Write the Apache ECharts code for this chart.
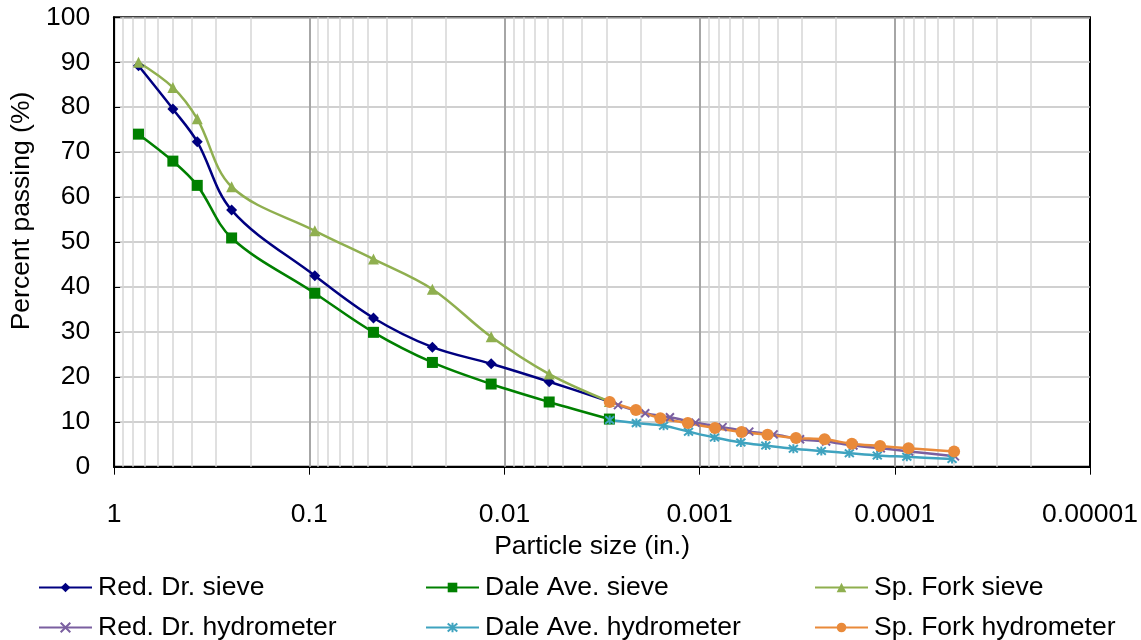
<!DOCTYPE html>
<html>
<head>
<meta charset="utf-8">
<script src="https://cdn.jsdelivr.net/npm/echarts@6/dist/echarts.min.js"></script>
<style>
html,body{margin:0;padding:0;background:#fff;}
#chart{width:1141px;height:640px;}
</style>
</head>
<body>
<div id="chart"></div>
<script>
// ---- data ----
var xTickLabels = ['1', '0.1', '0.01', '0.001', '0.0001', '0.00001'];
var sieveSize = [0.75, 0.5, 0.375, 0.25, 0.0937, 0.0469, 0.0234, 0.0117, 0.0059, 0.0029];
var redSieve  = [89.2, 79.6, 72.3, 57.1, 42.5, 33.1, 26.6, 22.9, 18.9, 14.5];
var daleSieve = [74.0, 68.0, 62.6, 50.9, 38.6, 29.9, 23.2, 18.4, 14.4, 10.6];
var forkSieve = [90.0, 84.4, 77.4, 62.3, 52.5, 46.2, 39.5, 28.9, 20.6, 14.5];

var redHydroSize  = [0.00262, 0.00190, 0.00142, 0.00105, 0.000763, 0.000557, 0.000418, 0.000306, 0.000225, 0.000163, 0.000118, 0.0000845, 0.0000492];
var redHydro      = [13.7, 11.9, 11.0, 9.8, 8.8, 7.8, 7.2, 6.1, 5.6, 4.7, 4.1, 3.4, 2.3];
var daleHydroSize = [0.00289, 0.00211, 0.00153, 0.00114, 0.000839, 0.000615, 0.000458, 0.000331, 0.000238, 0.000171, 0.000123, 0.0000868, 0.0000509];
var daleHydro     = [10.4, 9.7, 9.1, 7.8, 6.5, 5.4, 4.7, 4.0, 3.5, 3.0, 2.5, 2.2, 1.7];
var forkHydroSize = [0.00289, 0.00212, 0.00159, 0.00115, 0.000835, 0.000610, 0.000449, 0.000321, 0.000229, 0.000166, 0.000119, 0.0000851, 0.0000497];
var forkHydro     = [14.4, 12.6, 10.8, 9.7, 8.6, 7.7, 7.1, 6.4, 6.1, 5.1, 4.6, 4.1, 3.4];

var seriesNames = ['Red. Dr. sieve', 'Dale Ave. sieve', 'Sp. Fork sieve',
                   'Red. Dr. hydrometer', 'Dale Ave. hydrometer', 'Sp. Fork hydrometer'];

// ---- build ----
function pairs(xs, ys) { return xs.map(function (x, i) { return [x, ys[i]]; }); }

// minor gridlines for the log axis (2..9 within each decade)
var minorLines = [];
for (var k = 1; k <= 5; k++) {
  for (var m = 2; m <= 9; m++) {
    minorLines.push({ xAxis: m * Math.pow(10, -k) });
  }
}
var majorLines = [];
for (var k2 = 1; k2 <= 4; k2++) majorLines.push({ xAxis: Math.pow(10, -k2) });

var FONT = 'Liberation Sans, Arial, sans-serif';
var FS = 26.5;
var xPath = 'path://M0,0L10,10M10,0L0,10';
var starPath = 'path://M0,0L10,10M10,0L0,10M5,-1L5,11';

function lineSeries(name, data, color, symbol, size, extra) {
  var s = {
    name: name, type: 'line', data: data, smooth: 0.35,
    symbol: symbol, symbolSize: size, showSymbol: true,
    lineStyle: { color: color, width: 2.5 },
    itemStyle: { color: color },
    z: 5
  };
  if (extra) for (var key in extra) s[key] = extra[key];
  return s;
}

var legendPos = [
  [38, 574], [425, 574], [814, 574],
  [38, 614], [425, 614], [814, 614]
];

var option = {
  animation: false,
  backgroundColor: '#fff',
  grid: {
    left: 113.5, right: 51, top: 17.3, bottom: 173.3,
    show: true, borderColor: '#000', borderWidth: 2, backgroundColor: 'transparent'
  },
  xAxis: {
    type: 'log', logBase: 10, inverse: true, min: 0.00001, max: 1,
    name: 'Particle size (in.)', nameLocation: 'middle', nameGap: 66,
    nameTextStyle: { fontFamily: FONT, fontSize: FS, color: '#000', padding: [0, 20, 0, 0] },
    axisLine: { show: true, lineStyle: { color: '#000', width: 2 } },
    axisTick: { show: true, inside: false, length: 8, lineStyle: { color: '#000', width: 1 } },
    axisLabel: {
      fontFamily: FONT, fontSize: FS, color: '#000', margin: 34,
      showMinLabel: true, showMaxLabel: true,
      formatter: function (v) {
        var idx = Math.round(-Math.log10(v));
        return xTickLabels[idx] !== undefined ? xTickLabels[idx] : '';
      }
    },
    splitLine: { show: false },
    minorTick: { show: false }
  },
  yAxis: {
    type: 'value', min: 0, max: 100, interval: 10,
    name: 'Percent passing (%)', nameLocation: 'middle', nameGap: 72,
    nameTextStyle: { fontFamily: FONT, fontSize: FS, color: '#000', padding: [0, 0, 0, 62] },
    axisLine: { show: true, lineStyle: { color: '#000', width: 2 } },
    axisTick: { show: true, inside: true, length: 6, lineStyle: { color: '#000', width: 1 } },
    axisLabel: { fontFamily: FONT, fontSize: FS, color: '#000', margin: 24 },
    splitLine: { show: true, lineStyle: { color: '#c0c0c0', width: 1.5 } }
  },
  legend: seriesNames.map(function (nm, i) {
    return {
      left: legendPos[i][0], top: legendPos[i][1], padding: 0,
      itemWidth: 53, itemHeight: 12,
      textStyle: { fontFamily: FONT, fontSize: FS, color: '#000', padding: [0, 0, 0, 1] },
      data: [nm],
      selectedMode: false
    };
  }),
  series: [
    {
      name: '_grid', type: 'line', data: [], silent: true, z: 1,
      markLine: {
        silent: true, symbol: 'none', animation: false, precision: 12,
        label: { show: false },
        lineStyle: { color: '#d6d6d6', width: 1.5, type: 'solid' },
        data: minorLines
      }
    },
    {
      name: '_grid2', type: 'line', data: [], silent: true, z: 2,
      markLine: {
        silent: true, symbol: 'none', animation: false, precision: 12,
        label: { show: false },
        lineStyle: { color: '#a6a6a6', width: 2, type: 'solid' },
        data: majorLines
      }
    },
    lineSeries(seriesNames[0], pairs(sieveSize, redSieve), '#000080', 'diamond', 11),
    lineSeries(seriesNames[1], pairs(sieveSize, daleSieve), '#008000', 'rect', 11),
    lineSeries(seriesNames[2], pairs(sieveSize, forkSieve), '#8faf4f', 'triangle', 11),
    lineSeries(seriesNames[3], pairs(redHydroSize, redHydro), '#7a5fa0', xPath, 8,
      { itemStyle: { color: 'transparent', borderColor: '#7a5fa0', borderWidth: 2 } }),
    lineSeries(seriesNames[4], pairs(daleHydroSize, daleHydro), '#3fa3bf', starPath, 9,
      { itemStyle: { color: 'transparent', borderColor: '#3fa3bf', borderWidth: 2 } }),
    lineSeries(seriesNames[5], pairs(forkHydroSize, forkHydro), '#e98a3a', 'circle', 12)
  ]
};

var chart = echarts.init(document.getElementById('chart'), null, { renderer: 'canvas' });
chart.setOption(option);
</script>
</body>
</html>
